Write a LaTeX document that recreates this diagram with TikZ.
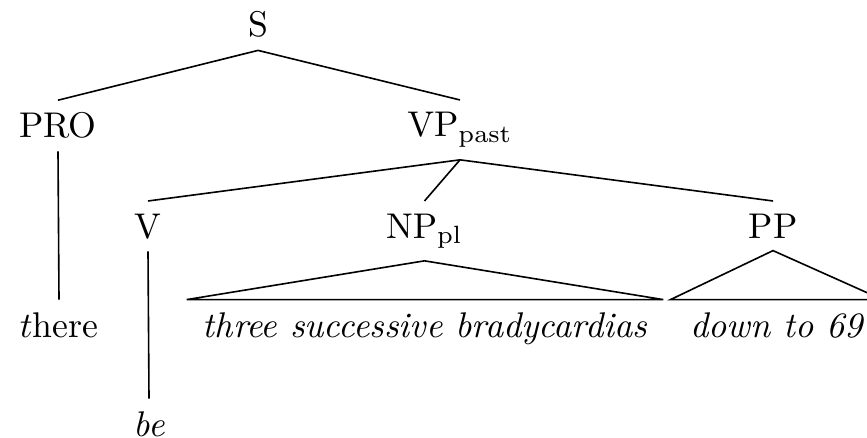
\documentclass[tikz,border=0pt]{standalone}
\begin{document}
\begin{tikzpicture}[x=0.28pt,y=-0.28pt,
  cat/.style={anchor=base},
  leaf/.style={anchor=base,font=\itshape},
  branch/.style={line width=0.45pt}]
\useasboundingbox (0,0) rectangle (867,438);
% categories
\node[cat] (S)   at (258,37)  {S};
\node[cat] (PRO) at (58,138)  {PRO};
\node[cat] (VP)  at (460,137) {$\mathrm{VP}_{\mathrm{past}}$};
\node[cat] (V)   at (148,238) {V};
\node[cat] (NP)  at (424.5,238) {$\mathrm{NP}_{\mathrm{pl}}$};
\node[cat] (PP)  at (773,238) {PP};
% words
\node[cat]  (there) at (59,337)  {$t$here};
\node[leaf] (np)    at (425,337) {three successive bradycardias};
\node[leaf] (pp)    at (776.5,337) {down to 69};
\node[leaf] (be)    at (149,436) {be};
% branches
\draw[branch] (S.south) -- (PRO.north);
\draw[branch] (S.south) -- (VP.north);
\draw[branch] (VP.south) -- (V.north);
\draw[branch] (VP.south) -- (NP.north);
\draw[branch] (VP.south) -- (PP.north);
\draw[branch] (PRO.south) -- (there.north);
\draw[branch] (V.south) -- (be.north);
% roofs over unanalysed phrases
\draw[branch] (NP.south) -- ([xshift=1pt]np.north east) -- ([xshift=-1pt]np.north west) -- cycle;
\draw[branch] (PP.south) -- ([xshift=2pt]pp.north east) -- ([xshift=-2pt]pp.north west) -- cycle;
\end{tikzpicture}
\end{document}
